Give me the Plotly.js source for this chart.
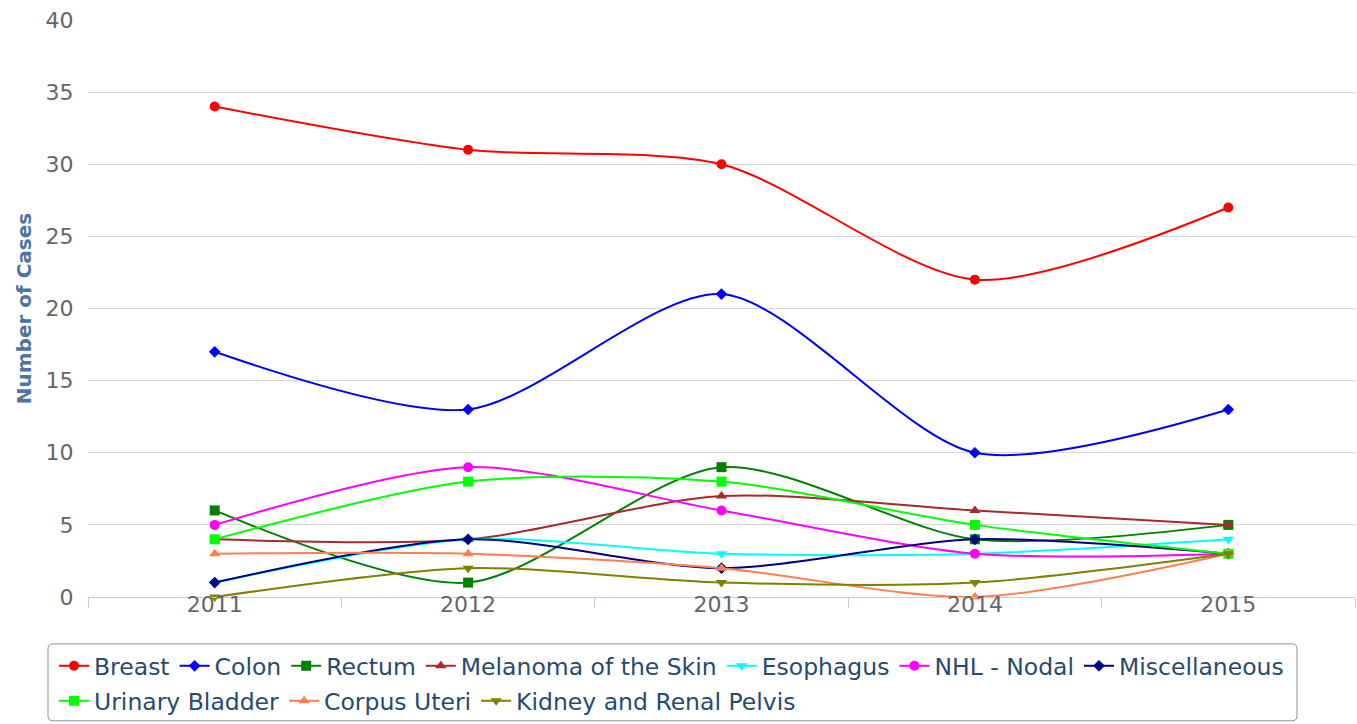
<!DOCTYPE html>
<html>
<head>
<meta charset="utf-8">
<script src="https://cdn.plot.ly/plotly-3.0.1.min.js"></script>
<style>html,body{margin:0;padding:0;background:#fff;}#chart{width:1357px;height:724px;}</style>
</head>
<body>
<div id="chart"></div>
<script>
const years = ['2011', '2012', '2013', '2014', '2015'];
const seriesNames = ['Breast', 'Colon', 'Rectum', 'Melanoma of the Skin', 'Esophagus', 'NHL - Nodal', 'Miscellaneous', 'Urinary Bladder', 'Corpus Uteri', 'Kidney and Renal Pelvis'];
const breast = [34, 31, 30, 22, 27];
const colon = [17, 13, 21, 10, 13];
const rectum = [6, 1, 9, 4, 5];
const melanoma = [4, 4, 7, 6, 5];
const esophagus = [1, 4, 3, 3, 4];
const nhlNodal = [5, 9, 6, 3, 3];
const miscellaneous = [1, 4, 2, 4, 3];
const urinaryBladder = [4, 8, 8, 5, 3];
const corpusUteri = [3, 3, 2, 0, 3];
const kidney = [0, 2, 1, 1, 3];
const yTicks = [0, 5, 10, 15, 20, 25, 30, 35, 40];

const values = [breast, colon, rectum, melanoma, esophagus, nhlNodal, miscellaneous, urinaryBladder, corpusUteri, kidney];
const colors = ['#ff0000', '#0000ff', '#008000', '#a52a2a', '#00ffff', '#ff00ff', '#000080', '#00ff00', '#ff7f50', '#808000'];
const symbols = ['circle', 'diamond', 'square', 'triangle-up', 'triangle-down', 'circle', 'diamond', 'square', 'triangle-up', 'triangle-down'];
const sizes = [10, 9, 10, 10, 10, 10, 9, 10, 10, 10];

const traces = seriesNames.map((n, i) => ({
  type: 'scatter',
  mode: 'lines+markers',
  name: n,
  x: years,
  y: values[i],
  line: {color: colors[i], width: 2, shape: 'spline', smoothing: 0.8},
  marker: {color: colors[i], symbol: symbols[i], size: sizes[i]},
  cliponaxis: false,
  legend: i < 7 ? 'legend' : 'legend2'
}));

const W = 1357, H = 724, L = 88, R = 2, T = 20, B = 126;
const pw = W - L - R, ph = H - T - B;
const px = v => (v - L) / pw;
const py = v => (H - B - v) / ph;
const x0 = px(48), x1 = px(1297), y0 = py(722), y1 = py(645);
const rx = 5 / pw, ry = 5 / ph;
const boxPath = `M ${x0 + rx} ${y1} L ${x1 - rx} ${y1} Q ${x1} ${y1} ${x1} ${y1 - ry} L ${x1} ${y0 + ry} Q ${x1} ${y0} ${x1 - rx} ${y0} L ${x0 + rx} ${y0} Q ${x0} ${y0} ${x0} ${y0 + ry} L ${x0} ${y1 - ry} Q ${x0} ${y1} ${x0 + rx} ${y1} Z`;

const legendFont = {family: 'DejaVu Sans, sans-serif', size: 23.5, color: '#274b6d'};
const layout = {
  width: W, height: H,
  margin: {l: L, r: R, t: T, b: B, pad: 0},
  paper_bgcolor: '#ffffff', plot_bgcolor: '#ffffff',
  font: {family: 'DejaVu Sans, sans-serif', size: 22, color: '#666666'},
  showlegend: true,
  xaxis: {
    type: 'category', range: [-0.5, 4.5], tickson: 'boundaries',
    ticks: 'outside', ticklen: 10, tickcolor: '#c0d0e0', tickwidth: 1,
    showline: true, linecolor: '#c0d0e0', linewidth: 1,
    showgrid: false, zeroline: false,
    tickfont: {size: 22, color: '#666666'}, ticklabelstandoff: -12, fixedrange: true
  },
  yaxis: {
    range: [0, 40], tickvals: yTicks, ticktext: yTicks.map(String),
    showgrid: true, gridcolor: '#d8d8d8', gridwidth: 1, zeroline: false, showline: false,
    ticks: 'outside', ticklen: 9, tickcolor: 'rgba(0,0,0,0)',
    tickfont: {size: 22, color: '#666666'},
    title: {text: 'Number of Cases', font: {size: 20, color: '#4d759e', weight: 'bold'}, standoff: 8},
    fixedrange: true
  },
  legend: {orientation: 'h', x: px(54), xanchor: 'left', y: py(644), yanchor: 'top', borderwidth: 0, bgcolor: 'rgba(0,0,0,0)', font: legendFont, itemwidth: 30, tracegroupgap: 0},
  legend2: {orientation: 'h', x: px(54), xanchor: 'left', y: py(679), yanchor: 'top', borderwidth: 0, bgcolor: 'rgba(0,0,0,0)', font: legendFont, itemwidth: 30},
  shapes: [{type: 'path', xref: 'paper', yref: 'paper', path: boxPath, line: {color: '#909090', width: 1}, fillcolor: 'rgba(0,0,0,0)'}]
};

Plotly.newPlot('chart', traces, layout, {displayModeBar: false, responsive: false});
</script>
</body>
</html>
